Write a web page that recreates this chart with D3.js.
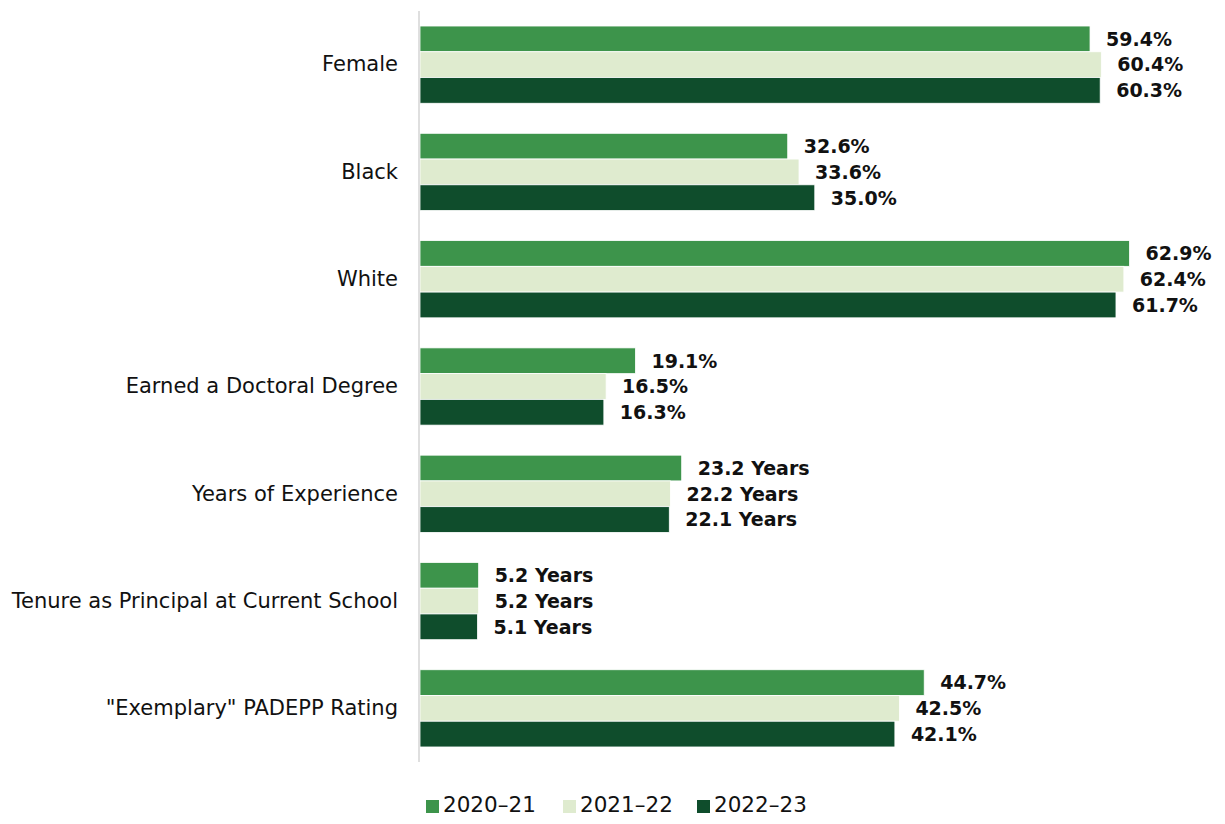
<!DOCTYPE html>
<html>
<head>
<meta charset="utf-8">
<script src="https://cdn.jsdelivr.net/npm/d3@7"></script>
<style>
  html, body { margin: 0; padding: 0; background: #fff; }
  svg { display: block; }
  text { font-family: "DejaVu Sans", "Open Sans", sans-serif; fill: #111; }
</style>
</head>
<body>
<svg id="chart" width="1225" height="824"></svg>
<script>
// Principal characteristics by school year
const categories = [
  "Female",
  "Black",
  "White",
  "Earned a Doctoral Degree",
  "Years of Experience",
  "Tenure as Principal at Current School",
  "\"Exemplary\" PADEPP Rating"
];
const units = ["%", "%", "%", "%", " Years", " Years", "%"];
const years = ["2020\u201321", "2021\u201322", "2022\u201323"];
const values2020 = [59.4, 32.6, 62.9, 19.1, 23.2, 5.2, 44.7];
const values2021 = [60.4, 33.6, 62.4, 16.5, 22.2, 5.2, 42.5];
const values2022 = [60.3, 35.0, 61.7, 16.3, 22.1, 5.1, 42.1];
const colors = ["#3d944b", "#dfebcf", "#0f4d2c"];

const seriesValues = [values2020, values2021, values2022];

const svg = d3.select("#chart");
const x0 = 420, yTop = 11, yBottom = 762;
const fontFamily = "'DejaVu Sans', 'Open Sans', sans-serif";

const x = d3.scaleLinear().domain([0, 100]).range([x0, x0 + 1128]);
const y = d3.scaleBand().domain(categories).range([yTop, yBottom])
  .paddingInner(0.28).paddingOuter(0.14);
const ySub = d3.scaleBand().domain(years).range([0, y.bandwidth()]);

const rows = categories.map((c, i) => ({
  cat: c,
  items: years.map((yr, j) => ({ yr, j, v: seriesValues[j][i], unit: units[i] }))
}));

const g = svg.append("g");
const grp = g.selectAll("g.cat").data(rows).join("g")
  .attr("class", "cat")
  .attr("transform", d => `translate(0,${y(d.cat)})`);

grp.selectAll("rect").data(d => d.items).join("rect")
  .attr("x", x(0))
  .attr("y", d => ySub(d.yr))
  .attr("width", d => x(d.v) - x(0))
  .attr("height", ySub.bandwidth())
  .attr("fill", d => colors[d.j])
  .attr("stroke", "#ffffff")
  .attr("stroke-width", 0.8);

grp.selectAll("text.val").data(d => d.items).join("text")
  .attr("class", "val")
  .attr("x", d => x(d.v) + 16)
  .attr("y", d => ySub(d.yr) + ySub.bandwidth() / 2)
  .attr("dy", "0.36em")
  .style("font-size", "19px")
  .style("font-weight", "700")
  .text(d => d.v.toFixed(1) + d.unit);

// Category axis
const axis = d3.axisLeft(y).tickSize(0).tickPadding(21);
const ax = svg.append("g").attr("transform", `translate(${x0 - 1},0)`).call(axis);
ax.select(".domain").attr("stroke", "#d4d4d4").attr("stroke-width", 1.5)
  .attr("d", `M0,${yTop}V${yBottom}`);
ax.selectAll(".tick text")
  .style("font-family", fontFamily)
  .style("font-size", "21px")
  .attr("fill", "#111");

// Legend
const legendX = [426, 563, 697];
const lg = svg.append("g").selectAll("g").data(years).join("g")
  .attr("transform", (d, i) => `translate(${legendX[i]},812)`);
lg.append("rect").attr("x", 0).attr("y", -12).attr("width", 13).attr("height", 13)
  .attr("fill", (d, i) => colors[i]);
lg.append("text").attr("x", 17).attr("y", 0).attr("dy", "0.02em")
  .style("font-size", "21.5px").text(d => d);
</script>
</body>
</html>
